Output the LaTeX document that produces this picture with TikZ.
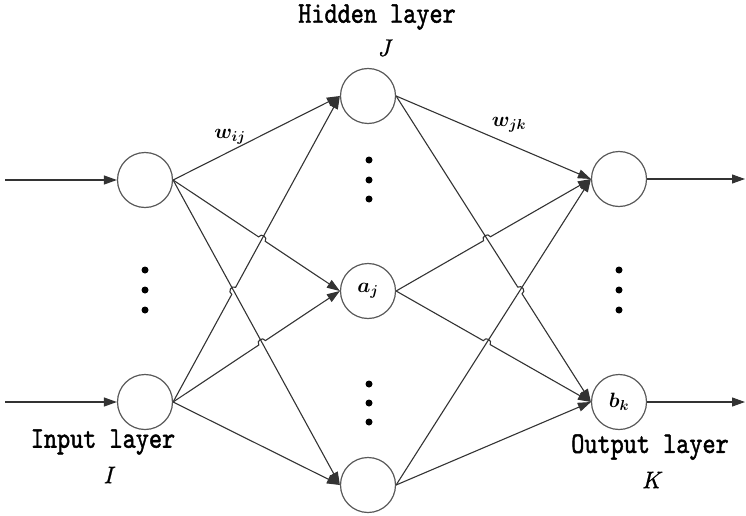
\documentclass[tikz,border=0pt]{standalone}
\usepackage{fontspec}
\newfontfamily\monob[FakeBold=1.6]{lmmono10-regular.otf}
\newfontfamily\itb[FakeBold=0.8]{lmroman10-italic.otf}
\usetikzlibrary{arrows.meta,intersections,calc}
\begin{document}
\begin{tikzpicture}[x=1pt,y=-1pt,
  neuron/.style={circle,draw=black!65,line width=1.2pt,minimum size=55pt,inner sep=0pt,font=\fontsize{21}{21}\selectfont\boldmath},
  conn/.style={draw=black!80,line width=1.1pt,-{Triangle[length=13pt,width=9pt]}},
  hop/.style={bend left=90,looseness=1.6},
  lbl/.style={font=\fontsize{25}{25}\monob,inner sep=0pt},
  var/.style={font=\fontsize{24}{24}\itb,inner sep=0pt},
  wt/.style={font=\fontsize{22}{22}\selectfont\boldmath,inner sep=0pt},
  dotn/.style={circle,fill=black,inner sep=0pt,minimum size=7pt}]
\useasboundingbox (0,0) rectangle (746,516);
% neurons
\node[neuron] (i1) at (145,180) {};
\node[neuron] (i2) at (145,402) {};
\node[neuron] (h1) at (368,96) {};
\node[neuron] (h2) at (368,291) {$a_j$};
\node[neuron] (h3) at (368,485) {};
\node[neuron] (o1) at (619,179) {};
\node[neuron] (o2) at (619,402) {$b_k$};
% inputs / outputs
\coordinate (in1) at (5,180);
\coordinate (in2) at (5,402);
\coordinate (out1) at (745,179);
\coordinate (out2) at (745,402);
\draw[conn] (in1) -- (i1);
\draw[conn] (in2) -- (i2);
\draw[conn] (o1) -- (out1);
\draw[conn] (o2) -- (out2);
% intersection paths
\path[name path=p12] (i1.east) -- (h2.west);
\path[name path=p21] (i2.east) -- (h1.west);
\path[name path=p13] (i1.east) -- (h3.west);
\path[name path=p22] (i2.east) -- (h2.west);
\path[name intersections={of=p12 and p21,by=xa}];
\path[name intersections={of=p21 and p13,by=xb}];
\path[name intersections={of=p22 and p13,by=xc}];
\path[name path=q21] (h2.east) -- (o1.west);
\path[name path=q12] (h1.east) -- (o2.west);
\path[name path=q31] (h3.east) -- (o1.west);
\path[name path=q22] (h2.east) -- (o2.west);
\path[name intersections={of=q21 and q12,by=xd}];
\path[name intersections={of=q12 and q31,by=xe}];
\path[name intersections={of=q22 and q31,by=xf}];
% input -> hidden
\draw[conn] (i1.east) -- (h1.west);
\draw[conn] (i1.east) -- (h3.west);
\draw[conn] (i2.east) -- (h3.west);
\draw[conn] (i1.east) -- ($(xa)!4pt!(i1.east)$) to[hop] ($(xa)!4pt!(h2.west)$) -- (h2.west);
\draw[conn] (i2.east) -- ($(xb)!4pt!(i2.east)$) to[hop] ($(xb)!4pt!(h1.west)$) -- (h1.west);
\draw[conn] (i2.east) -- ($(xc)!4pt!(i2.east)$) to[hop] ($(xc)!4pt!(h2.west)$) -- (h2.west);
% hidden -> output
\draw[conn] (h1.east) -- (o1.west);
\draw[conn] (h3.east) -- (o1.west);
\draw[conn] (h3.east) -- (o2.west);
\draw[conn] (h2.east) -- ($(xd)!4pt!(h2.east)$) to[hop] ($(xd)!4pt!(o1.west)$) -- (o1.west);
\draw[conn] (h1.east) -- ($(xe)!4pt!(h1.east)$) to[hop] ($(xe)!4pt!(o2.west)$) -- (o2.west);
\draw[conn] (h2.east) -- ($(xf)!4pt!(h2.east)$) to[hop] ($(xf)!4pt!(o2.west)$) -- (o2.west);
% dots
\node[dotn] (d1) at (145,270) {};
\node[dotn] (d2) at (145,290) {};
\node[dotn] (d3) at (145,310) {};
\node[dotn] (d4) at (369,160) {};
\node[dotn] (d5) at (369,180) {};
\node[dotn] (d6) at (369,199) {};
\node[dotn] (d7) at (369,384) {};
\node[dotn] (d8) at (369,403) {};
\node[dotn] (d9) at (369,422) {};
\node[dotn] (d10) at (619,270) {};
\node[dotn] (d11) at (619,290) {};
\node[dotn] (d12) at (619,310) {};
% labels
\node[lbl] (hl) at (377,17) {\scalebox{1}[1.2]{Hidden layer}};
\node[var] (J) at (384,48) {J};
\node[lbl] (il) at (103,442) {\scalebox{1}[1.2]{Input layer}};
\node[var] (I) at (108,475) {I};
\node[lbl] (ol) at (650,447) {\scalebox{1}[1.2]{Output layer}};
\node[var] (K) at (651,480) {K};
\node[wt] (wij) at (230,137) {$w_{ij}$};
\node[wt] (wjk) at (509,125) {$w_{jk}$};
\end{tikzpicture}
\end{document}
